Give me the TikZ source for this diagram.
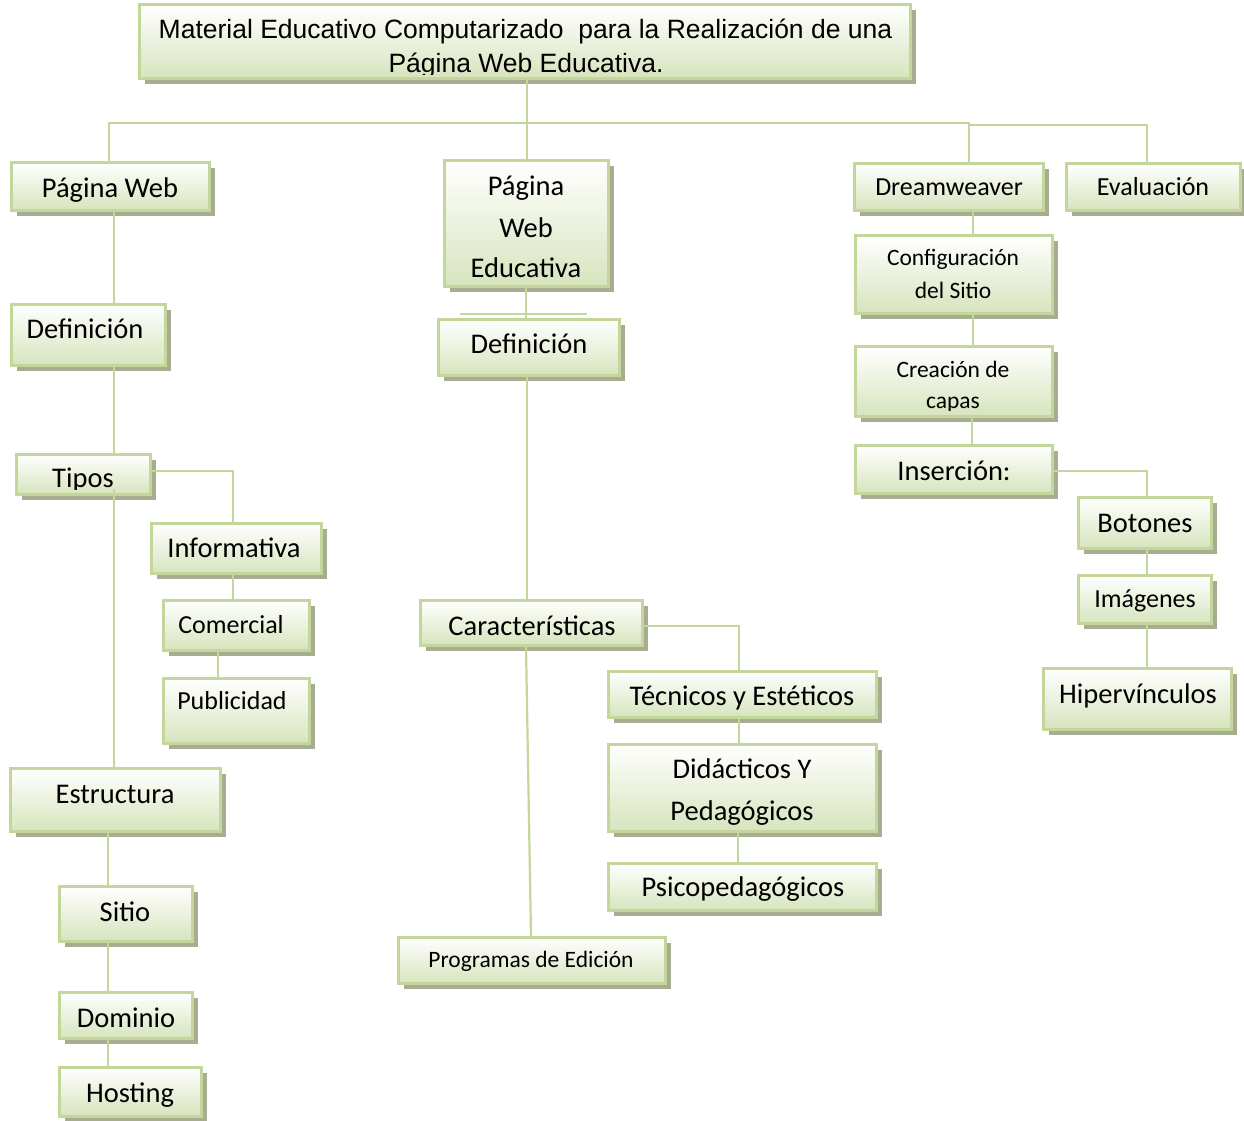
\documentclass[tikz,border=0pt]{standalone}
\usepackage{fontspec}
\setmainfont{Carlito}
\newfontfamily\arialf{Liberation Sans}
\usetikzlibrary{shadows}
\definecolor{bord}{HTML}{C3D69B}
\definecolor{fillg}{HTML}{D7E4BD}
\definecolor{shad}{HTML}{A8AC90}
\newcommand\fL{\fontsize{28.5}{34}\selectfont}
\newcommand\fM{\fontsize{26}{31}\selectfont}
\newcommand\fS{\fontsize{23.5}{28}\selectfont}
\newcommand\fT{\arialf\fontsize{26.5}{35}\selectfont}
\newcommand\bx[5]{\node[box, minimum width={(#4-#2-3)*1pt}, minimum height={(#5-#3-3)*1pt}] (#1) at ({(#2+#4)/2},{(#3+#5)/2}) {};}
\tikzset{
  box/.style={rectangle, draw=bord, line width=3pt, top color=white, bottom color=fillg, inner sep=0pt,
    drop shadow={shadow xshift=5pt, shadow yshift=-5pt, fill=shad, opacity=1}},
  txt/.style={anchor=base, inner sep=0pt, text=black},
  conn/.style={draw=bord, line width=2.2pt}
}
\begin{document}
\begin{tikzpicture}[x=1pt, y=-1pt]
\fill[white] (0,0) rectangle (1244,1120);
\useasboundingbox (0,0) rectangle (1244,1120);

% boxes
\bx{title}{138}{3}{912}{80}
\bx{pw}{10}{161}{211}{212}
\bx{defa}{10}{303}{167}{367}
\bx{tipos}{15}{453}{152}{496}
\bx{inf}{150}{522}{323}{575}
\bx{com}{162}{599}{311}{652}
\bx{pub}{162}{677}{311}{745}
\bx{estr}{9}{767}{222}{833}
\bx{sitio}{58}{885}{194}{943}
\bx{dom}{58}{991}{194}{1040}
\bx{host}{58}{1066}{203}{1118}
\bx{pwe}{443}{159}{610}{288}
\bx{defb}{437}{318}{621}{377}
\bx{car}{419}{599}{644}{647}
\bx{tec}{607}{670}{878}{719}
\bx{did}{607}{743}{878}{833}
\bx{psi}{607}{862}{878}{912}
\bx{prog}{397}{936}{667}{985}
\bx{dw}{853}{162}{1045}{212}
\bx{ev}{1065}{162}{1242}{212}
\bx{conf}{854}{234}{1054}{315}
\bx{crea}{854}{345}{1054}{418}
\bx{ins}{854}{444}{1054}{495}
\bx{bot}{1077}{496}{1213}{550}
\bx{img}{1077}{574}{1213}{625}
\bx{hip}{1042}{667}{1233}{731}

% connectors
\coordinate (jr) at (969,123);
\draw[conn] ([xshift=2pt]title.south) -- ([xshift=0.5pt]pwe.north);
\draw[conn] ([xshift=-1.5pt]pw.north) |- (jr) -- ([xshift=20pt]dw.north);
\draw[conn] (jr) -- ++(0,2) -| ([xshift=-6.5pt]ev.north);

\draw[conn] ([xshift=3.5pt]pw.south) -- ([xshift=25.5pt]defa.north);
\draw[conn] ([xshift=25.5pt]defa.south) -- ([xshift=30.5pt]tipos.north);
\draw[conn] ([yshift=3.5pt]tipos.east) -| ([xshift=-3.5pt]inf.north);
\draw[conn] ([xshift=-3.5pt]inf.south) -- ([xshift=-3.5pt]com.north);
\draw[conn] ([xshift=-18.5pt]com.south) -- ([xshift=-18.5pt]pub.north);
\draw[conn] ([xshift=30.5pt,yshift=-14.5pt]tipos.center) -- ([xshift=-1.5pt]estr.north);
\draw[conn] ([xshift=-7.5pt]estr.south) -- ([xshift=-18pt]sitio.north);
\draw[conn] ([xshift=-18pt]sitio.south) -- ([xshift=-18pt]dom.north);
\draw[conn] ([xshift=-18pt]dom.south) -- ([xshift=-22.5pt]host.north);

\draw[conn] ([xshift=-0.5pt]pwe.south) -- ([xshift=-3pt]defb.north);
\draw[bord, line width=2pt] (460,314) -- (587,314);
\draw[conn] ([xshift=-2pt]defb.south) -- ([xshift=-4.5pt]car.north);
\draw[conn] ([yshift=-3pt]car.east) -| ([xshift=-3.5pt]tec.north);
\draw[conn] ([xshift=-3.5pt]tec.south) -- ([xshift=-3.5pt]did.north);
\draw[conn] ([xshift=-4.5pt]did.south) -- ([xshift=-4.5pt]psi.north);
\draw[conn] ([xshift=-5.5pt]car.south) -- ([xshift=-1pt]prog.north);

\draw[conn] ([xshift=24pt]dw.south) -- ([xshift=19pt]conf.north);
\draw[conn] ([xshift=19pt]conf.south) -- ([xshift=19pt]crea.north);
\draw[conn] ([xshift=18pt]crea.south) -- ([xshift=18pt]ins.north);
\draw[conn] ([yshift=-1.5pt]ins.east) -| ([xshift=2pt]bot.north);
\draw[conn] ([xshift=2pt]bot.south) -- ([xshift=2pt]img.north);
\draw[conn] ([xshift=2pt]img.south) -- ([xshift=9.5pt]hip.north);

% texts
\begin{scope}
\clip (title.north west) rectangle ([yshift=5.5pt]title.south east);
\node[txt, font=\fT] (title-a) at (525.5,38) {Material Educativo Computarizado\ \ para la Realización de una};
\node[txt, font=\fT] (title-b) at (526,72) {Página Web Educativa.};
\end{scope}

\node[txt, font=\fL] (pw-t) at (110,197) {Página Web};
\node[txt, font=\fL] (defa-t) at (85,338) {Definición};
\begin{scope}
\clip (tipos.north west) rectangle ([yshift=7pt]tipos.south east);
\node[txt, font=\fL] (tipos-t) at (83,487) {Tipos};
\end{scope}
\node[txt, font=\fL] (inf-t) at (234,557) {Informativa};
\node[txt, font=\fM] (com-t) at (231,633) {Comercial};
\node[txt, font=\fM] (pub-t) at (232,709) {Publicidad};
\node[txt, font=\fL] (estr-t) at (115,803) {Estructura};
\node[txt, font=\fL] (sitio-t) at (125,921) {Sitio};
\node[txt, font=\fL] (dom-t) at (126,1027) {Dominio};
\node[txt, font=\fL] (host-t) at (130,1102) {Hosting};

\node[txt, font=\fL] (pwe-a) at (526,195) {Página};
\node[txt, font=\fL] (pwe-b) at (526,237) {Web};
\node[txt, font=\fL] (pwe-c) at (526,277) {Educativa};
\node[txt, font=\fL] (defb-t) at (529,353) {Definición};
\node[txt, font=\fL] (car-t) at (532,635) {Características};
\node[txt, font=\fL] (tec-t) at (742,705) {Técnicos y Estéticos};
\node[txt, font=\fL] (did-a) at (742,778) {Didácticos Y};
\node[txt, font=\fL] (did-b) at (742,820) {Pedagógicos};
\node[txt, font=\fL] (psi-t) at (743,896) {Psicopedagógicos};
\node[txt, font=\fS] (prog-t) at (531,967) {Programas de Edición};

\node[txt, font=\fM] (dw-t) at (949,195) {Dreamweaver};
\node[txt, font=\fM] (ev-t) at (1153,195) {Evaluación};
\node[txt, font=\fS] (conf-a) at (953,265) {Configuración};
\node[txt, font=\fS] (conf-b) at (953,298) {del Sitio};
\node[txt, font=\fS] (crea-a) at (953,377) {Creación de};
\begin{scope}
\clip (crea.north west) rectangle ([yshift=8pt]crea.south east);
\node[txt, font=\fS] (crea-b) at (953,408) {capas};
\end{scope}
\node[txt, font=\fL] (ins-t) at (954,480) {Inserción:};
\node[txt, font=\fL] (bot-t) at (1145,532) {Botones};
\node[txt, font=\fM] (img-t) at (1145,607) {Imágenes};
\node[txt, font=\fL] (hip-t) at (1138,703) {Hipervínculos};
\end{tikzpicture}
\end{document}
